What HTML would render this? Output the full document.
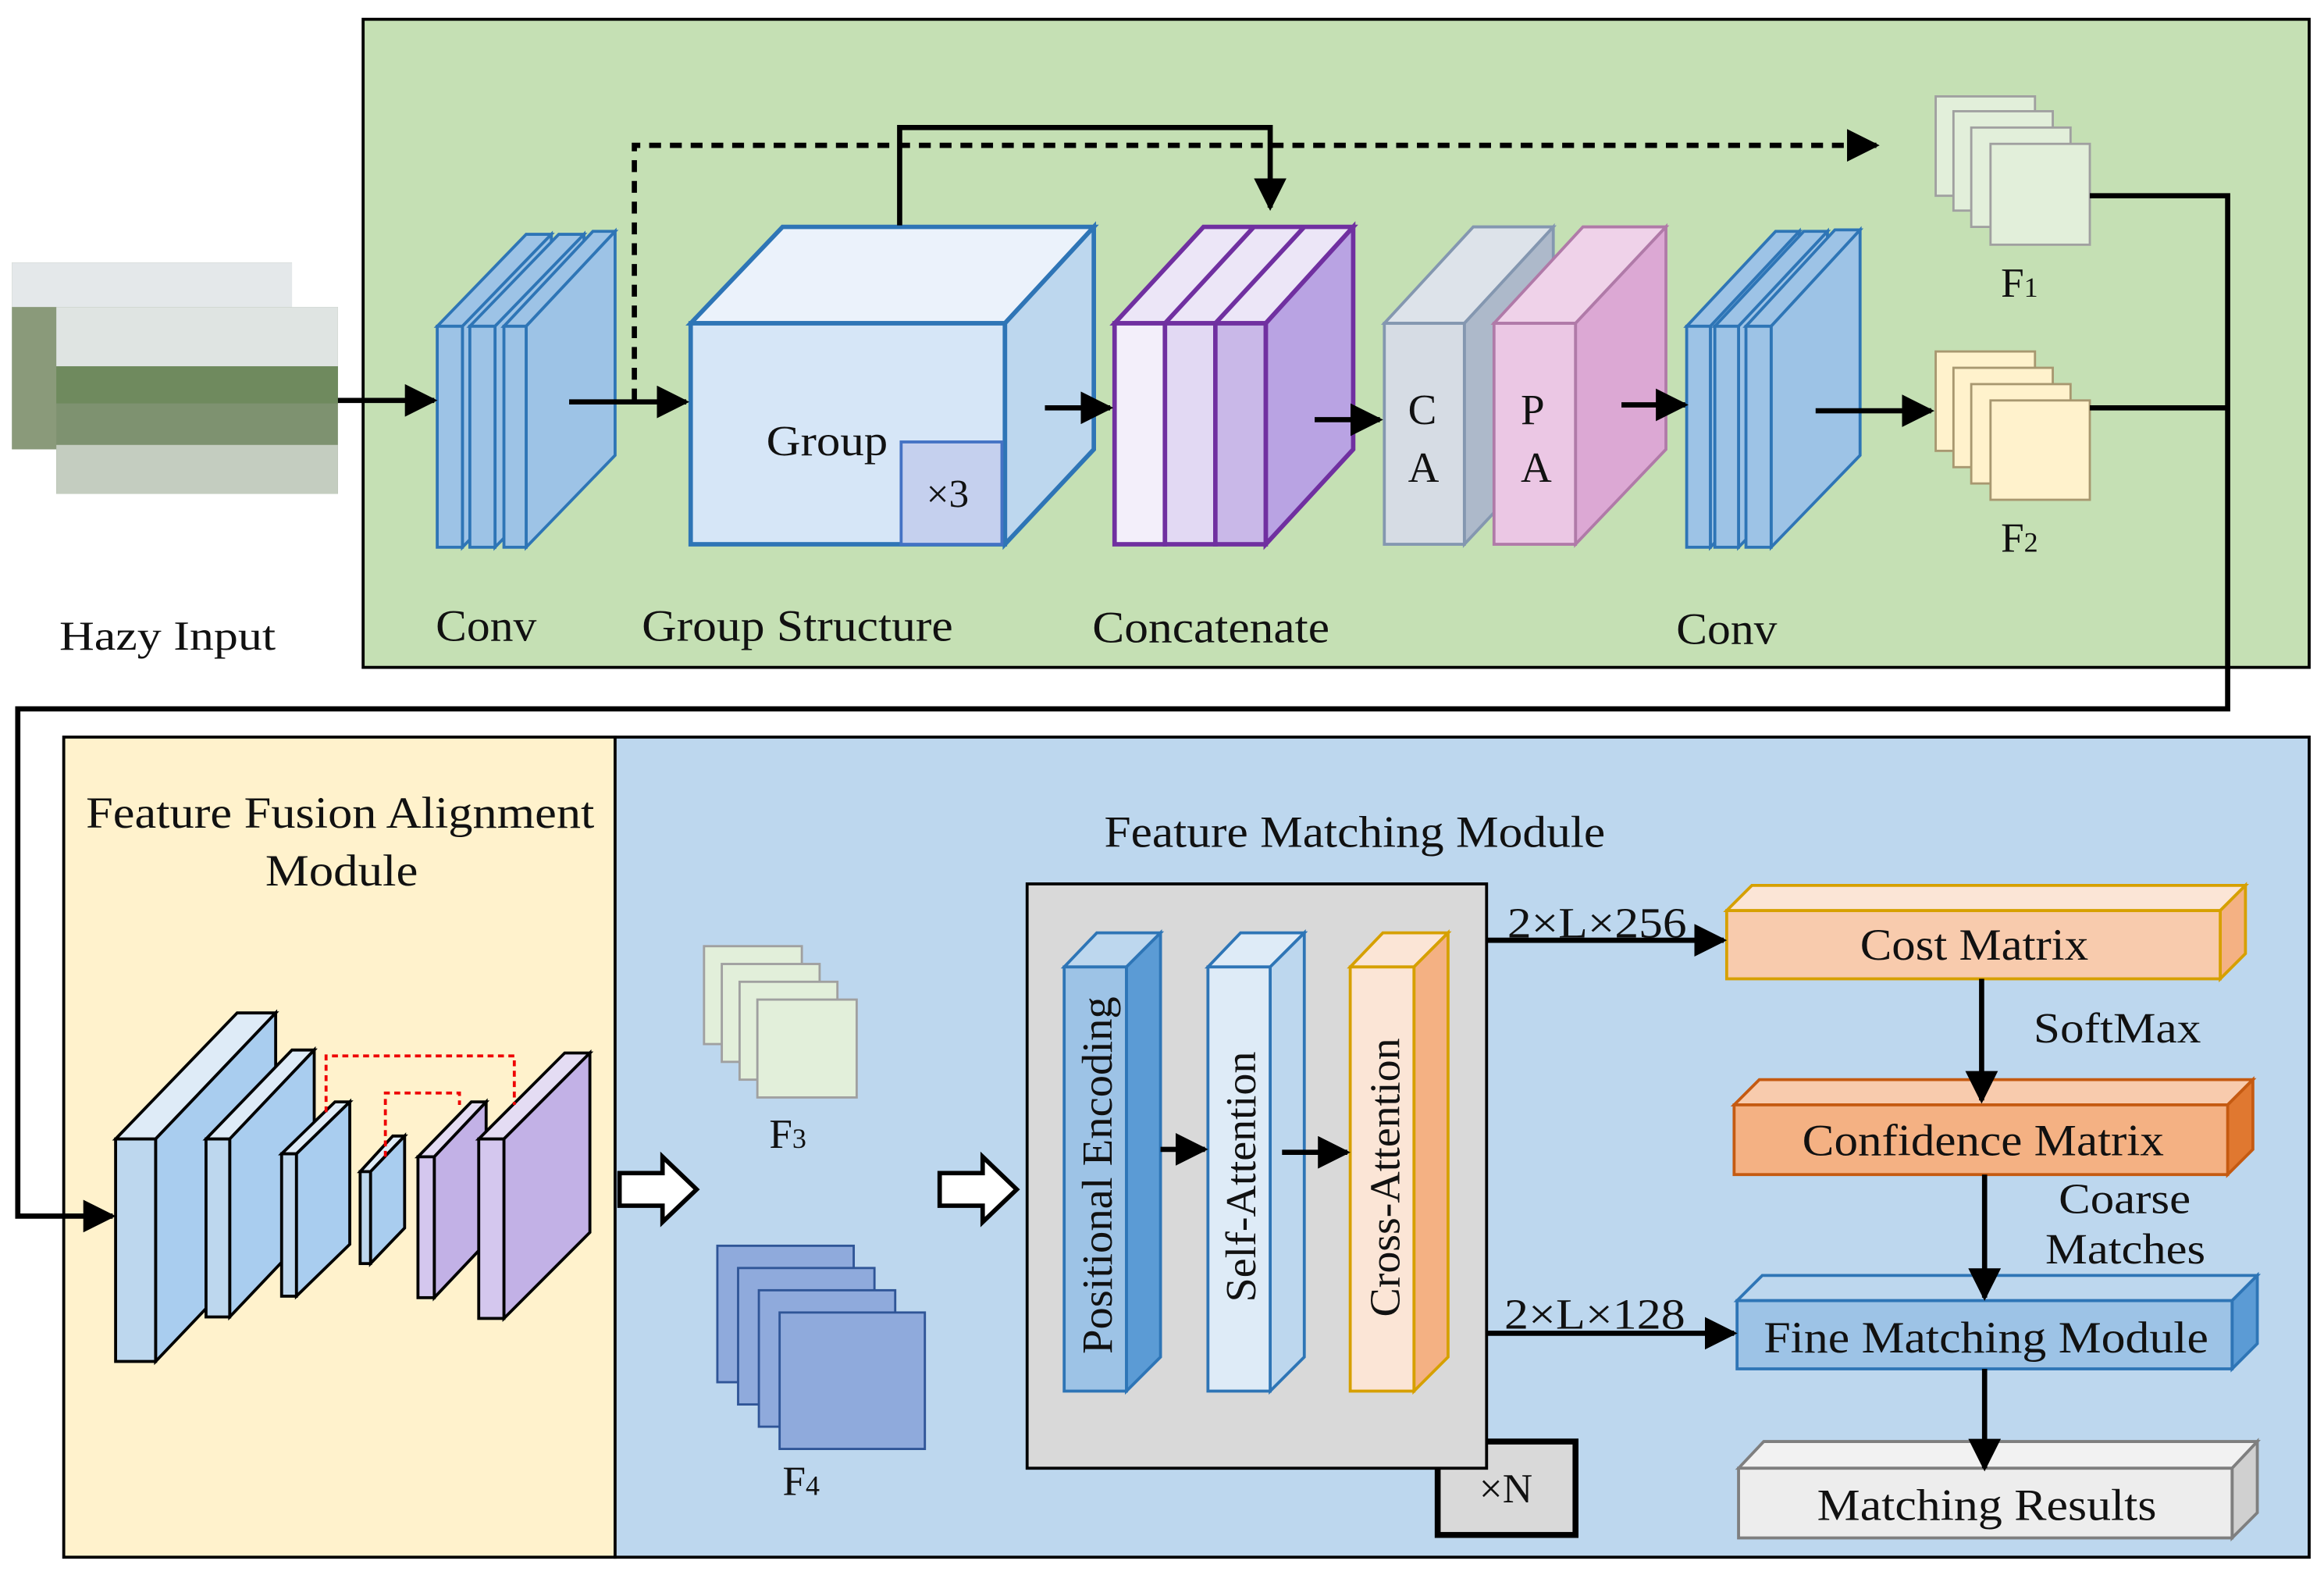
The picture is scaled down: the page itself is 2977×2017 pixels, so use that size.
<!DOCTYPE html>
<html><head><meta charset="utf-8"><style>html,body{margin:0;padding:0;background:#fff}svg{display:block}text{font-family:"Liberation Serif",serif;fill:#111}</style></head><body>
<svg width="2977" height="2017" viewBox="0 0 1568 1062" preserveAspectRatio="none" xmlns="http://www.w3.org/2000/svg">
<defs>
<marker id="a" viewBox="0 0 10 10" refX="9" refY="5" markerWidth="22" markerHeight="22" markerUnits="userSpaceOnUse" orient="auto"><path d="M0,0 L10,5 L0,10 z" fill="#000"/></marker></defs>
<rect x="245" y="13" width="1313" height="437" fill="#c5e0b4" stroke="#000" stroke-width="2"/>
<rect x="43" y="497" width="372" height="553" fill="#fff2cc" stroke="#000" stroke-width="2"/>
<rect x="415" y="497" width="1143" height="553" fill="#bdd7ee" stroke="#000" stroke-width="2"/>
<!-- hazy input -->
<rect x="8" y="177" width="189" height="126" fill="#8a9a7a"/><rect x="8" y="177" width="189" height="30" fill="#e4e8ea"/>
<rect x="38" y="207" width="190" height="126" fill="#7e9270"/><rect x="38" y="207" width="190" height="40" fill="#dfe4e2"/><rect x="38" y="247" width="190" height="25" fill="#6f8a5e"/><rect x="38" y="300" width="190" height="33" fill="#c4cdc0"/>
<text x="40" y="438" font-size="28" textLength="146" lengthAdjust="spacingAndGlyphs">Hazy Input</text>
<!-- conv1 -->
<g stroke="#2e75b6" stroke-width="2" fill="#9dc3e6">
<polygon points="295,220 355,158 372,158 312,220"/><polygon points="312,220 372,158 372,307 312,369"/><rect x="295" y="220" width="17" height="149"/>
<polygon points="317,220 377,158 394,158 334,220"/><polygon points="334,220 394,158 394,307 334,369"/><rect x="317" y="220" width="17" height="149"/>
<polygon points="340,220 400,156 415,156 355,220"/><polygon points="355,220 415,156 415,307 355,369"/><rect x="340" y="220" width="15" height="149"/>
</g>
<!-- group -->
<g stroke="#2e75b6" stroke-width="3"><polygon points="466,218 528,153 738,153 678,218" fill="#ebf2fb"/><polygon points="678,218 738,153 738,303 678,367" fill="#bdd7ee"/><rect x="466" y="218" width="212" height="149" fill="#d6e6f7"/></g>
<rect x="608" y="298" width="68" height="69" fill="#c5d0ee" stroke="#4472c4" stroke-width="2"/>
<text x="517" y="307" font-size="29" textLength="82" lengthAdjust="spacingAndGlyphs">Group</text><text x="625" y="342" font-size="27">×3</text>
<!-- concat -->
<g stroke="#7030a0" stroke-width="3">
<polygon points="752,218 812,153 913,153 854,218" fill="#ece6f7"/>
<line x1="786" y1="218" x2="846" y2="153"/><line x1="820" y1="218" x2="880" y2="153"/>
<polygon points="854,218 913,153 913,303 854,367" fill="#b9a3e3"/>
<rect x="752" y="218" width="34" height="149" fill="#f3effa"/><rect x="786" y="218" width="34" height="149" fill="#e2d9f3"/><rect x="820" y="218" width="34" height="149" fill="#c9b8e8"/>
</g>
<!-- CA PA -->
<g stroke="#8497b0" stroke-width="2"><polygon points="934,218 994,153 1048,153 988,218" fill="#dde3ea"/><polygon points="988,218 1048,153 1048,303 988,367" fill="#adb9ca"/><rect x="934" y="218" width="54" height="149" fill="#d6dce4"/></g>
<g stroke="#b07aa8" stroke-width="2"><polygon points="1008,218 1068,153 1124,153 1063,218" fill="#efd2e9"/><polygon points="1063,218 1124,153 1124,303 1063,367" fill="#dca8d4"/><rect x="1008" y="218" width="55" height="149" fill="#ebc7e4"/></g>
<text x="950" y="286" font-size="29">C</text><text x="950" y="325" font-size="29">A</text>
<text x="1026" y="286" font-size="29">P</text><text x="1026" y="325" font-size="29">A</text>
<!-- conv2 -->
<g stroke="#2e75b6" stroke-width="2" fill="#9dc3e6">
<polygon points="1138,220 1198,156 1214,156 1154,220"/><polygon points="1154,220 1214,156 1214,307 1154,369"/><rect x="1138" y="220" width="16" height="149"/>
<polygon points="1157,220 1217,156 1233,156 1173,220"/><polygon points="1173,220 1233,156 1233,307 1173,369"/><rect x="1157" y="220" width="16" height="149"/>
<polygon points="1178,220 1238,155 1255,155 1195,220"/><polygon points="1195,220 1255,155 1255,307 1195,369"/><rect x="1178" y="220" width="17" height="149"/>
</g>
<text x="294" y="432" font-size="30" textLength="68" lengthAdjust="spacingAndGlyphs">Conv</text>
<text x="433" y="432" font-size="30" textLength="210" lengthAdjust="spacingAndGlyphs">Group Structure</text>
<text x="737" y="433" font-size="30" textLength="160" lengthAdjust="spacingAndGlyphs">Concatenate</text>
<text x="1131" y="434" font-size="30" textLength="68" lengthAdjust="spacingAndGlyphs">Conv</text>
<!-- F1 F2 -->
<g stroke="#a0a0a0" stroke-width="1.5" fill="#e2efda">
<rect x="1306" y="65" width="67" height="67"/><rect x="1318" y="75" width="67" height="67"/><rect x="1330" y="86" width="67" height="67"/><rect x="1343" y="97" width="67" height="68"/>
</g>
<g stroke="#a89870" stroke-width="1.5" fill="#fff2cc">
<rect x="1306" y="237" width="67" height="67"/><rect x="1318" y="248" width="67" height="67"/><rect x="1330" y="259" width="67" height="67"/><rect x="1343" y="270" width="67" height="67"/>
</g>
<text x="1350" y="200" font-size="28">F<tspan font-size="19">1</tspan></text><text x="1350" y="372" font-size="28">F<tspan font-size="19">2</tspan></text>
<!-- connectors top -->
<g stroke="#000" stroke-width="3.5" fill="none">
<line x1="228" y1="270" x2="293" y2="270" marker-end="url(#a)"/>
<line x1="384" y1="271" x2="463" y2="271" marker-end="url(#a)"/>
<line x1="705" y1="275" x2="749" y2="275" marker-end="url(#a)"/>
<line x1="887" y1="283" x2="931" y2="283" marker-end="url(#a)"/>
<line x1="1094" y1="273" x2="1137" y2="273" marker-end="url(#a)"/>
<line x1="1225" y1="277" x2="1303" y2="277" marker-end="url(#a)"/>
<polyline points="607,152 607,86 857,86 857,140" marker-end="url(#a)"/>
<polyline points="428,270 428,98 1266,98" stroke-dasharray="8,6" marker-end="url(#a)"/>
<polyline points="1410,132 1503,132 1503,478 12,478 12,820 76,820" marker-end="url(#a)"/>
<line x1="1410" y1="275" x2="1503" y2="275"/>
</g>
<!-- bottom left -->
<text x="58" y="558" font-size="30" textLength="343" lengthAdjust="spacingAndGlyphs">Feature Fusion Alignment</text>
<text x="179" y="597" font-size="30" textLength="103" lengthAdjust="spacingAndGlyphs">Module</text>
<g stroke="#000" stroke-width="2">
<polygon points="78,768 160,683 186,683 105,768" fill="#deebf7"/><polygon points="105,768 186,683 186,833 105,918" fill="#a9cdef"/><rect x="78" y="768" width="27" height="150" fill="#bdd7ee"/>
<polygon points="139,768 197,708 212,708 155,768" fill="#deebf7"/><polygon points="155,768 212,708 212,828 155,888" fill="#a9cdef"/><rect x="139" y="768" width="16" height="120" fill="#bdd7ee"/>
<polygon points="190,778 226,743 236,743 200,778" fill="#deebf7"/><polygon points="200,778 236,743 236,839 200,874" fill="#a9cdef"/><rect x="190" y="778" width="10" height="96" fill="#bdd7ee"/>
<polygon points="243,790 265,766 273,766 250,790" fill="#deebf7"/><polygon points="250,790 273,766 273,828 250,852" fill="#a9cdef"/><rect x="243" y="790" width="7" height="62" fill="#bdd7ee"/>
<polygon points="282,780 318,743 328,743 293,780" fill="#e4dcf3"/><polygon points="293,780 328,743 328,838 293,875" fill="#c2b1e6"/><rect x="282" y="780" width="11" height="95" fill="#d4c7ee"/>
<polygon points="323,768 381,710 398,710 340,768" fill="#e4dcf3"/><polygon points="340,768 398,710 398,831 340,889" fill="#c2b1e6"/><rect x="323" y="768" width="17" height="121" fill="#d4c7ee"/>
</g>
<g stroke="#e00" stroke-width="2" fill="none" stroke-dasharray="4,3"><polyline points="220,750 220,712 347,712 347,745"/><polyline points="260,780 260,737 310,737 310,745"/></g>
<!-- hollow arrows -->
<g stroke="#000" stroke-width="3" fill="#fff"><polygon points="418,791 447,791 447,780 470,802 447,824 447,813 418,813"/><polygon points="634,791 663,791 663,780 686,802 663,824 663,813 634,813"/></g>
<!-- F3 F4 -->
<g stroke="#a0a0a0" stroke-width="1.5" fill="#e2efda"><rect x="475" y="638" width="66" height="66"/><rect x="487" y="650" width="66" height="66"/><rect x="499" y="662" width="66" height="66"/><rect x="511" y="674" width="67" height="66"/></g>
<text x="519" y="774" font-size="28">F<tspan font-size="19">3</tspan></text>
<g stroke="#2f5597" stroke-width="1.5" fill="#8faadc"><rect x="484" y="840" width="92" height="92"/><rect x="498" y="855" width="92" height="92"/><rect x="512" y="870" width="92" height="92"/><rect x="526" y="885" width="98" height="92"/></g>
<text x="528" y="1008" font-size="28">F<tspan font-size="19">4</tspan></text>
<text x="745" y="571" font-size="30" textLength="338" lengthAdjust="spacingAndGlyphs">Feature Matching Module</text>
<rect x="970" y="972" width="93" height="63" fill="#d9d9d9" stroke="#000" stroke-width="4"/>
<rect x="693" y="596" width="310" height="394" fill="#d9d9d9" stroke="#000" stroke-width="2"/>
<text x="998" y="1013" font-size="28">×N</text>
<g stroke-width="2">
<g stroke="#2e75b6"><polygon points="718,652 740,629 783,629 760,652" fill="#bdd7ee"/><polygon points="760,652 783,629 783,915 760,938" fill="#5b9bd5"/><rect x="718" y="652" width="42" height="286" fill="#9dc3e6"/></g>
<g stroke="#2e75b6"><polygon points="815,652 837,629 880,629 857,652" fill="#deebf7"/><polygon points="857,652 880,629 880,915 857,938" fill="#bdd7ee"/><rect x="815" y="652" width="42" height="286" fill="#deebf7"/></g>
<g stroke="#d6a000"><polygon points="911,652 933,629 977,629 954,652" fill="#fbe5d6"/><polygon points="954,652 977,629 977,915 954,938" fill="#f4b183"/><rect x="911" y="652" width="43" height="286" fill="#fbe5d6"/></g>
</g>
<text transform="translate(750,913) rotate(-90)" font-size="29" textLength="241" lengthAdjust="spacingAndGlyphs">Positional Encoding</text>
<text transform="translate(847,878) rotate(-90)" font-size="29" textLength="169" lengthAdjust="spacingAndGlyphs">Self-Attention</text>
<text transform="translate(944,888) rotate(-90)" font-size="29" textLength="188" lengthAdjust="spacingAndGlyphs">Cross-Attention</text>
<!-- right boxes -->
<g stroke-width="2">
<g stroke="#d6a000"><polygon points="1165,614 1182,597 1515,597 1498,614" fill="#fbe5d6"/><polygon points="1498,614 1515,597 1515,643 1498,660" fill="#f4b183"/><rect x="1165" y="614" width="333" height="46" fill="#f8cbad"/></g>
<g stroke="#c55a11"><polygon points="1170,745 1187,728 1520,728 1503,745" fill="#f8cbad"/><polygon points="1503,745 1520,728 1520,775 1503,792" fill="#e07830"/><rect x="1170" y="745" width="333" height="47" fill="#f4b183"/></g>
<g stroke="#2e75b6"><polygon points="1172,877 1189,860 1523,860 1506,877" fill="#bdd7ee"/><polygon points="1506,877 1523,860 1523,906 1506,923" fill="#5b9bd5"/><rect x="1172" y="877" width="334" height="46" fill="#9dc3e6"/></g>
<g stroke="#7f7f7f"><polygon points="1173,990 1190,972 1523,972 1506,990" fill="#f2f2f2"/><polygon points="1506,990 1523,972 1523,1020 1506,1037" fill="#d0d0d0"/><rect x="1173" y="990" width="333" height="47" fill="#ededed"/></g>
</g>
<g stroke="#000" stroke-width="3.5" fill="none">
<line x1="783" y1="775" x2="813" y2="775" marker-end="url(#a)"/>
<line x1="865" y1="777" x2="909" y2="777" marker-end="url(#a)"/>
<line x1="1003" y1="634" x2="1163" y2="634" marker-end="url(#a)"/>
<line x1="1003" y1="899" x2="1170" y2="899" marker-end="url(#a)"/>
<line x1="1337" y1="660" x2="1337" y2="742" marker-end="url(#a)"/>
<line x1="1339" y1="792" x2="1339" y2="875" marker-end="url(#a)"/>
<line x1="1339" y1="923" x2="1339" y2="990" marker-end="url(#a)"/>
</g>
<text x="1017" y="632" font-size="29" textLength="121" lengthAdjust="spacingAndGlyphs">2×L×256</text>
<text x="1015" y="896" font-size="29" textLength="122" lengthAdjust="spacingAndGlyphs">2×L×128</text>
<text x="1255" y="647" font-size="30" textLength="154" lengthAdjust="spacingAndGlyphs">Cost Matrix</text>
<text x="1216" y="779" font-size="30" textLength="244" lengthAdjust="spacingAndGlyphs">Confidence Matrix</text>
<text x="1190" y="912" font-size="30" textLength="300" lengthAdjust="spacingAndGlyphs">Fine Matching Module</text>
<text x="1226" y="1025" font-size="30" textLength="229" lengthAdjust="spacingAndGlyphs">Matching Results</text>
<text x="1372" y="703" font-size="29" textLength="113" lengthAdjust="spacingAndGlyphs">SoftMax</text>
<text x="1389" y="818" font-size="29" textLength="89" lengthAdjust="spacingAndGlyphs">Coarse</text>
<text x="1380" y="852" font-size="29" textLength="108" lengthAdjust="spacingAndGlyphs">Matches</text>
</svg>
</body></html>
